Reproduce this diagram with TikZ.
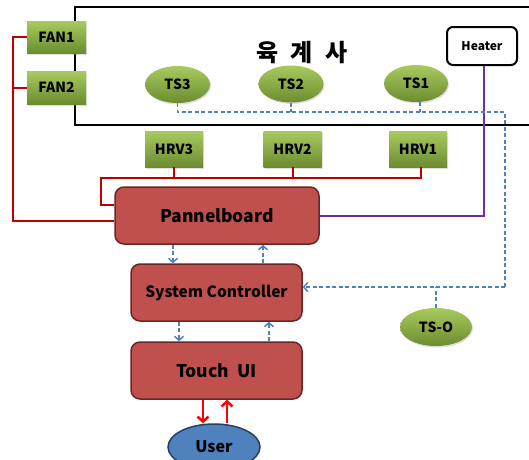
\documentclass[tikz,border=0pt]{standalone}
\usepackage{fontspec}
\setmainfont{Noto Sans CJK KR}
\usetikzlibrary{shapes.geometric,arrows.meta,shadows}
\definecolor{gtop}{HTML}{A8CB5E}
\definecolor{gbot}{HTML}{6C8C30}
\definecolor{rfill}{HTML}{C0504D}
\definecolor{rdraw}{HTML}{6A2624}
\definecolor{bfill}{HTML}{4F81BD}
\definecolor{bdraw}{HTML}{243F60}
\definecolor{dblue}{HTML}{4F81BD}
\definecolor{purp}{HTML}{7030A0}
\definecolor{dred}{HTML}{C00000}
\tikzset{
  fs/.style={font=\fontsize{#1}{#1}\selectfont\bfseries},
  gbox/.style={rectangle, inner sep=0pt, top color=gtop, bottom color=gbot, draw=none,
    drop shadow={opacity=0.25, shadow xshift=1pt, shadow yshift=-1.5pt}},
  gell/.style={ellipse, inner sep=0pt, top color=gtop, bottom color=gbot, draw=none,
    drop shadow={opacity=0.25, shadow xshift=1pt, shadow yshift=-1.5pt}},
  rbox/.style={rectangle, rounded corners=9pt, inner sep=0pt, fill=rfill, draw=rdraw, line width=1.5pt},
  redline/.style={draw=dred, line width=2pt},
  purline/.style={draw=purp, line width=2.3pt},
  bdash/.style={draw=dblue, line width=1.5pt, dash pattern=on 4pt off 2.5pt},
  barrow/.style={bdash, -{Straight Barb[length=4pt,width=9pt]}},
  rarrow/.style={draw=red, line width=2.5pt, -{Straight Barb[length=5pt,width=11pt]}},
}
\begin{document}
\begin{tikzpicture}[x=1pt,y=-1pt]
\useasboundingbox (0,0) rectangle (529,459);
% house outline
\draw[line width=2pt] (529,7) -- (75,7) -- (75,125) -- (529,125);
\node[fs=24] (title) at (302,53) {육\hspace{12pt}계\hspace{12pt}사};
% sensors and actuators
\node[gbox, fs=14, minimum width=59pt, minimum height=32pt] (fan1) at (56.5,37) {FAN1};
\node[gbox, fs=14, minimum width=59pt, minimum height=33pt] (fan2) at (56.5,87.5) {FAN2};
\node[gell, fs=14, minimum width=65pt, minimum height=37pt] (ts3) at (177.5,84.5) {TS3};
\node[gell, fs=14, minimum width=65pt, minimum height=37pt] (ts2) at (291,84) {TS2};
\node[gell, fs=14, minimum width=64pt, minimum height=37pt] (ts1) at (416,83.5) {TS1};
\node[rectangle, rounded corners=6pt, draw, line width=2pt, fill=white, inner sep=0pt,
  minimum width=70pt, minimum height=38pt, fs=12] (heater) at (482,46) {Heater};
\node[gbox, fs=14, minimum width=58pt, minimum height=36pt] (hrv3) at (174,149) {HRV3};
\node[gbox, fs=14, minimum width=58pt, minimum height=36pt] (hrv2) at (292.5,149) {HRV2};
\node[gbox, fs=14, minimum width=58pt, minimum height=36pt] (hrv1) at (418,149) {HRV1};
\node[gell, fs=14, minimum width=72pt, minimum height=38pt] (tso) at (436,327) {TS-O};
% main blocks
\node[rbox, fs=17.5, minimum width=204pt, minimum height=57pt] (pb) at (217,215.5) {Pannelboard};
\node[rbox, fs=15.5, minimum width=171pt, minimum height=57pt] (sc) at (216.5,292.5) {System Controller};
\node[rbox, fs=17.5, minimum width=171pt, minimum height=57pt] (tui) at (216.5,370.5) {Touch\ \ UI};
\node[ellipse, fill=bfill, draw=bdraw, line width=1.5pt, inner sep=0pt,
  minimum width=92pt, minimum height=46pt, fs=16] (user) at (214,447) {User};
% red power lines
\draw[redline] (fan1.west) -- (13,37) -- (13,221) -- (pb.west |- 0,221);
\draw[redline] (fan2.west) -- (13,87.5);
\draw[redline] (hrv1.south -| 421,0) -- (421,178) -- (101,178) -- (101,205) -- (pb.west |- 0,205);
\draw[redline] (hrv2.south) -- (hrv2.south |- 0,178);
\draw[redline] (hrv3.south) -- (hrv3.south |- 0,178);
% heater line
\draw[purline] (heater.south -| 484,0) -- (484,216) -- (pb.east |- 0,216);
% temperature sensor bus
\draw[bdash] (ts3.south) -- (ts3.south |- 0,112) -- (505,112) -- (505,287);
\draw[barrow] (505,287) -- (sc.east |- 0,287);
\draw[bdash] (ts2.south) -- (ts2.south |- 0,112);
\draw[bdash] (ts1.south -| 420,0) -- (420,112);
\draw[bdash] (tso.north) -- (tso.north |- 0,287);
% block communication
\draw[barrow] (pb.south -| 173,0) -- (sc.north -| 173,0);
\draw[barrow] (sc.north -| 263,0) -- (pb.south -| 263,0);
\draw[barrow] (sc.south -| 179,0) -- (tui.north -| 179,0);
\draw[barrow] (tui.north -| 269,0) -- (sc.south -| 269,0);
\draw[rarrow] (tui.south -| 203,0) -- (user.north -| 203,0);
\draw[rarrow] (user.north -| 227,0) -- (tui.south -| 227,0);
\end{tikzpicture}
\end{document}
